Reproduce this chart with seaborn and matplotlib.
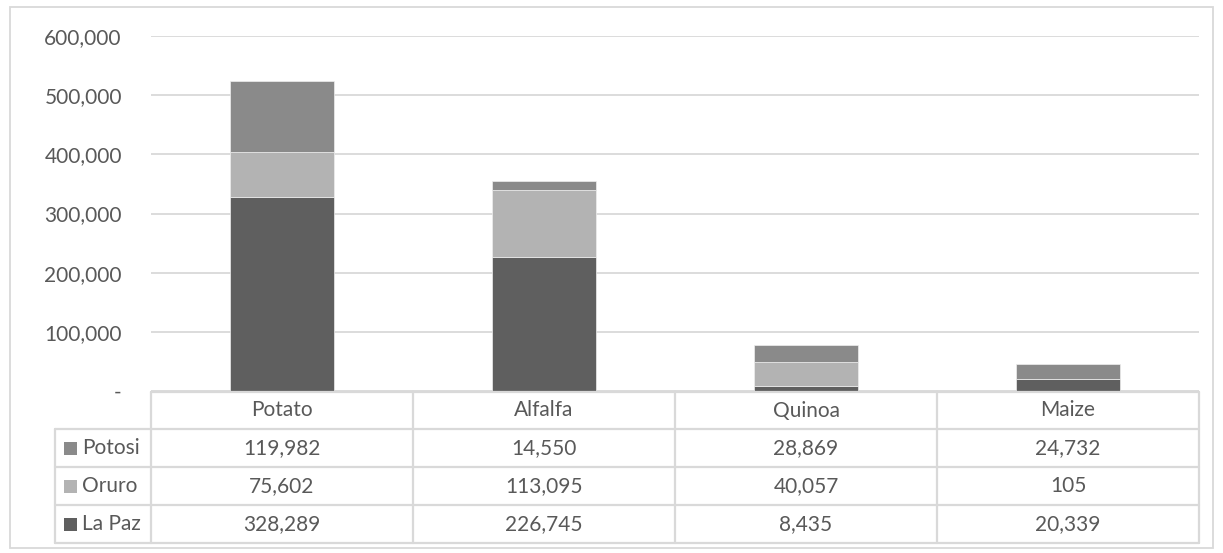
import numpy as np
import pandas as pd
import matplotlib
matplotlib.use("Agg")
import matplotlib.pyplot as plt
import matplotlib.transforms as mtransforms
from matplotlib.patches import Rectangle
from matplotlib.lines import Line2D
import seaborn as sns

# Crops and regions
crops = ["Potato", "Alfalfa", "Quinoa", "Maize"]
regions = ["Potosi", "Oruro", "La Paz"]
la_paz = [328289, 226745, 8435, 20339]
oruro = [75602, 113095, 40057, 105]
potosi = [119982, 14550, 28869, 24732]
y_ticks = [0, 100000, 200000, 300000, 400000, 500000, 600000]

colors = {"La Paz": "#5f5f5f", "Oruro": "#b3b3b3", "Potosi": "#8a8a8a"}
text_color = "#595959"
line_color = "#d9d9d9"

sns.set_theme(style="white")
plt.rcParams["font.family"] = ["Lato", "DejaVu Sans"]

W, H = 1223, 553
fig = plt.figure(figsize=(W / 100, H / 100), dpi=100)

def fx(px):
    return px / W

def fy(py):
    return 1 - py / H

ax_left, ax_right, ax_top, ax_bottom = 151, 1199, 36, 391
ax = fig.add_axes([fx(ax_left), fy(ax_bottom), fx(ax_right) - fx(ax_left), fy(ax_top) - fy(ax_bottom)])

df = pd.DataFrame({"crop": crops, "La Paz": la_paz, "Oruro": oruro, "Potosi": potosi})

# Stacked bars: La Paz at the bottom, then Oruro, then Potosi
bottom = np.zeros(len(crops))
for name in ["La Paz", "Oruro", "Potosi"]:
    sns.barplot(data=df, x="crop", y=name, color=colors[name], width=0.4,
                bottom=bottom, ax=ax, saturation=1, zorder=3,
                edgecolor="#eeeeee", linewidth=0.5)
    bottom = bottom + df[name].to_numpy()

ax.set_xlim(-0.5, len(crops) - 0.5)
ax.set_ylim(0, y_ticks[-1])
ax.set_yticks(y_ticks)
ax.set_yticklabels(["-" if v == 0 else f"{v:,}" for v in y_ticks])
ax.tick_params(axis="y", length=0, pad=21, labelsize=15, labelcolor=text_color)
ax.set_xticks([])
ax.set_xlabel("")
ax.set_ylabel("")
for lbl in ax.get_yticklabels():
    lbl.set_horizontalalignment("right")
ax.yaxis.grid(True, color=line_color, linewidth=1.3, zorder=0)
ax.set_axisbelow(True)
for s in ax.spines.values():
    s.set_visible(False)

# Outer chart border
fig.patches.append(Rectangle((fx(10), fy(548)), fx(1213) - fx(10), fy(7) - fy(548),
                             transform=fig.transFigure, fill=False,
                             edgecolor=line_color, linewidth=1.3))

# Data table beneath the plot
blend = mtransforms.blended_transform_factory(ax.transData, fig.transFigure)
row_edges = [392, 429, 467, 505, 543]
legend_left = 55
lw = 1.6

def hline(x0, x1, y):
    fig.add_artist(Line2D([x0, x1], [fy(y), fy(y)], transform=fig.transFigure,
                          color=line_color, linewidth=lw))

def vline(x, y0, y1):
    fig.add_artist(Line2D([fx(x), fx(x)], [fy(y0), fy(y1)], transform=fig.transFigure,
                          color=line_color, linewidth=lw))

hline(fx(ax_left), fx(ax_right), row_edges[0])
for y in row_edges[1:]:
    hline(fx(legend_left), fx(ax_right), y)
vline(legend_left, row_edges[1], row_edges[-1])
for i in range(len(crops) + 1):
    xd = i - 0.5
    fig.add_artist(Line2D([xd, xd], [fy(row_edges[0]), fy(row_edges[-1])], transform=blend,
                          color=line_color, linewidth=lw, clip_on=False))

fs = 15
for i, c in enumerate(crops):
    fig.text(i, fy((row_edges[0] + row_edges[1]) / 2), c, transform=blend,
             ha="center", va="center", fontsize=fs, color=text_color)

table_rows = {"Potosi": potosi, "Oruro": oruro, "La Paz": la_paz}
sq = 13
for r, name in enumerate(regions):
    yc = fy((row_edges[r + 1] + row_edges[r + 2]) / 2)
    fig.patches.append(Rectangle((fx(64), yc - (fy(0) - fy(sq)) / 2), fx(sq), fy(0) - fy(sq),
                                 transform=fig.transFigure, facecolor=colors[name],
                                 edgecolor="none"))
    fig.text(fx(82), yc, name, ha="left", va="center", fontsize=fs, color=text_color)
    for i, v in enumerate(table_rows[name]):
        fig.text(i, yc, f"{v:,}", transform=blend, ha="center", va="center",
                 fontsize=fs, color=text_color)

fig.savefig("out.png", dpi=100, facecolor="white")
